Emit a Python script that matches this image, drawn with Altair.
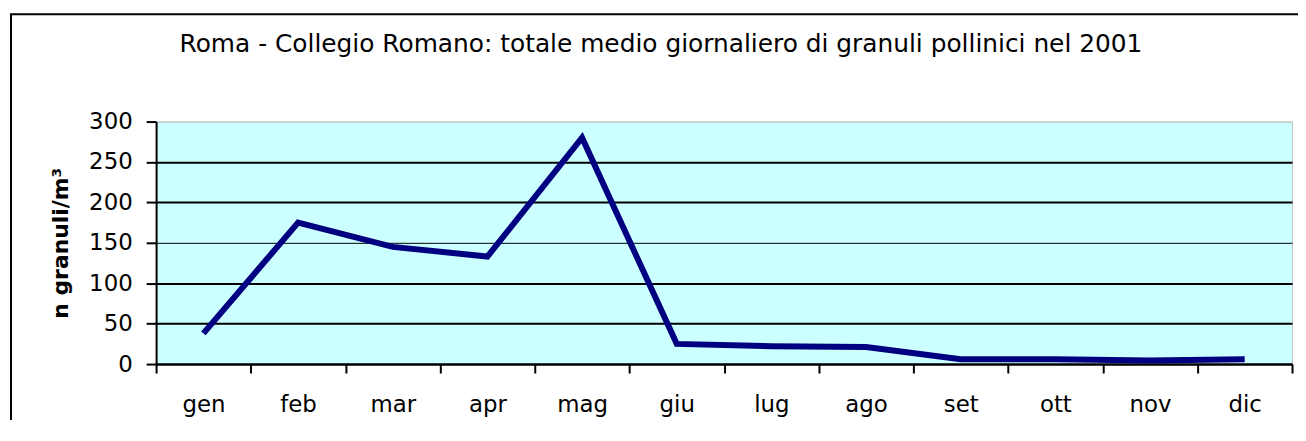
import altair as alt
import pandas as pd

months = ["gen", "feb", "mar", "apr", "mag", "giu", "lug", "ago", "set", "ott", "nov", "dic"]
values = [38, 175, 145, 133, 280, 25, 22, 21, 6, 6, 4.5, 6]

title_text = "Roma - Collegio Romano: totale medio giornaliero di granuli pollinici nel 2001"
y_title = "n granuli/m³"
y_ticks = [0, 50, 100, 150, 200, 250, 300]

df = pd.DataFrame({"mese": months, "valore": values})

FONT = "DejaVu Sans"

base = alt.Chart(df)

line = base.mark_line(color="#000080", strokeWidth=6, strokeJoin="miter").encode(
    x=alt.X(
        "mese:O",
        sort=months,
        scale=alt.Scale(type="band", paddingInner=0, paddingOuter=0),
        axis=alt.Axis(
            title=None,
            labelAngle=0,
            tickBand="extent",
            tickSize=9,
            tickWidth=2,
            tickColor="black",
            domainColor="black",
            domainWidth=2,
            labelPadding=21,
            labelFont=FONT,
            labelFontSize=23,
            labelColor="black",
            grid=False,
        ),
    ),
    y=alt.Y(
        "valore:Q",
        scale=alt.Scale(domain=[0, 300], nice=False, zero=True),
        axis=alt.Axis(
            title=y_title,
            values=y_ticks,
            titleFont=FONT,
            titleFontSize=22,
            titleFontWeight="bold",
            titleColor="black",
            titlePadding=16,
            labelFont=FONT,
            labelFontSize=23,
            labelColor="black",
            labelPadding=14,
            tickSize=10,
            tickWidth=2,
            tickColor="black",
            domainColor="black",
            domainWidth=2,
            grid=True,
            gridColor={"condition": {"test": "datum.value === 300", "value": "#c0c0c0"}, "value": "black"},
            gridWidth={"condition": {"test": "datum.value === 150 || datum.value === 300", "value": 1}, "value": 2},
        ),
    ),
)

frame = alt.Chart(alt.Data(values=[{"k": 1}])).mark_rect(
    filled=False, stroke="black", strokeWidth=2
).encode(
    x=alt.value(-146), x2=alt.value(1170), y=alt.value(-108), y2=alt.value(340)
)

title = alt.Chart(alt.Data(values=[{"t": title_text}])).mark_text(
    font=FONT, fontSize=25, color="black", align="center", baseline="alphabetic"
).encode(
    text="t:N", x=alt.value(508), y=alt.value(-70)
)

chart = alt.layer(line, frame, title).properties(
    width=1143,
    height=244,
    padding={"left": 149, "top": 113, "right": 6, "bottom": 55},
    autosize=alt.AutoSizeParams(type="none"),
).configure_view(
    fill="#CCFFFF", stroke="#c0c0c0", strokeWidth=1
)

chart.save("out.html", embed_options={"renderer": "svg", "actions": False})
